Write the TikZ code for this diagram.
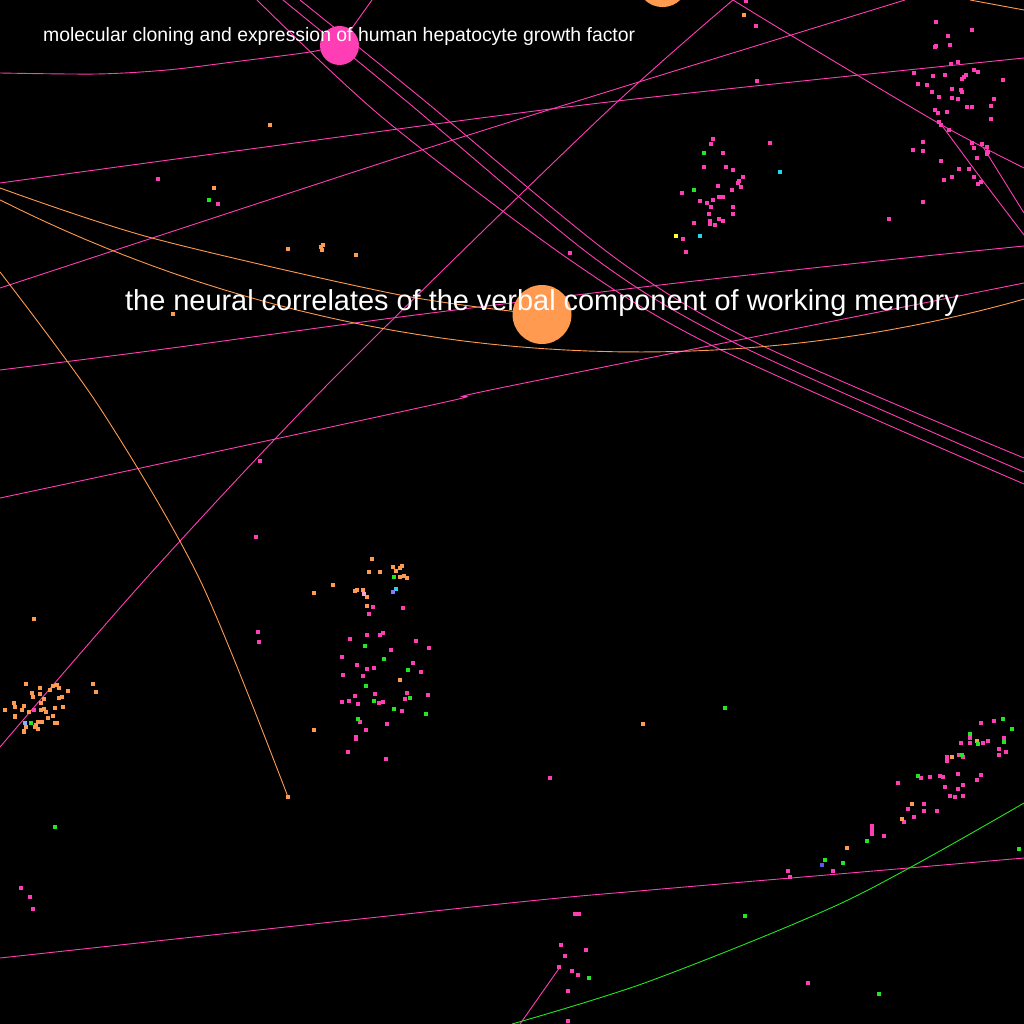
\documentclass[tikz,border=0pt]{standalone}
\usepackage{fontspec}
\newfontfamily\lab{Liberation Sans}
\definecolor{pk}{HTML}{FF3DB4}
\definecolor{og}{HTML}{FF9A50}
\definecolor{gr}{HTML}{22E622}
\definecolor{cy}{HTML}{1ADCE6}
\definecolor{yl}{HTML}{FFFF33}
\definecolor{vi}{HTML}{8080FF}
\definecolor{bl}{HTML}{5A5AF0}
\definecolor{lb}{HTML}{80B4FF}
\definecolor{lp}{HTML}{FFA0D0}
\newcommand\dts[2]{\foreach \x/\y in {#2} \fill[#1] (\x-1.75,\y-1.75) rectangle (\x+1.75,\y+1.75);}
\begin{document}
\begin{tikzpicture}[x=1pt,y=-1pt,
  pkedge/.style={draw=pk,line width=0.9pt},
  ogedge/.style={draw=og,line width=0.9pt},
  gredge/.style={draw=gr,line width=0.9pt},
  hub/.style={circle,inner sep=0pt,draw=none},
  lbl/.style={anchor=base west,inner sep=0pt,text=white}]
\fill[black] (0,0) rectangle (1024,1024);
\useasboundingbox (0,0) rectangle (1024,1024);
\begin{scope}
\clip (0,0) rectangle (1024,1024);
% hub positions
\coordinate (pc) at (339.5,45.5);
\coordinate (oc) at (542,314.5);
\coordinate (otop) at (662.5,-18.4);
\coordinate (e1) at (372,0);
\coordinate (apex) at (733,0);
% pink connectors
\draw[pkedge] plot[smooth] coordinates {(0,73) (97,74) (167,70) (233,62) (310,52) (pc)};
\draw[pkedge] (pc) -- (e1);
\draw[pkedge] plot[smooth] coordinates {(257,0) (383,118) (570,260) (717,348) (1024,484)};
\draw[pkedge] plot[smooth] coordinates {(283,0) (405,100) (597,260) (743,347) (1024,472)};
\draw[pkedge] plot[smooth] coordinates {(300,0) (420,97) (618,260) (763,346) (1024,458)};
\draw[pkedge] plot[smooth] coordinates {(0,747) (150,574) (332,380) (600,118) (apex)};
\draw[pkedge] plot[smooth] coordinates {(apex) (787,33) (940,124) (1024,168)};
\draw[pkedge] plot[smooth] coordinates {(943,127) (980,177) (1024,235)};
\draw[pkedge] plot[smooth] coordinates {(983,147) (1024,213)};
\draw[pkedge] plot[smooth] coordinates {(0,183) (243,150) (600,103) (1024,58)};
\draw[pkedge] plot[smooth] coordinates {(0,288) (400,157) (600,94) (905,0)};
\draw[pkedge] plot[smooth] coordinates {(0,370) (157,350) (400,317) (660,285) (887,260) (1024,246)};
\draw[pkedge] plot[smooth] coordinates {(0,498) (150,466) (450,401) (500,388) (1024,283)};
\draw[pkedge] plot[smooth] coordinates {(0,958) (500,904) (650,890) (850,873) (1024,858)};
\draw[pkedge] (560,967) -- (520,1024);
% orange connectors
\draw[ogedge] plot[smooth] coordinates {(0,188) (152,238) (400,295) (oc)};
\draw[ogedge] plot[domain=-27:16,samples=120,variable=\t] ({640+1423*sin(\t)},{-1071+1423*cos(\t)});
\draw[ogedge] plot[smooth] coordinates {(0,272) (100,408) (200,580) (288,797)};
\draw[ogedge] (970,0) -- (1024,10);
% green connector
\draw[gredge] plot[smooth] coordinates {(512,1024) (650,981) (848,900) (1024,803)};
% dots
\dts{pk}{373/607,403/608,369/614,383/633,380/635,367/635,350/639,416/641,429/648,391/650,342/657,357/665,413/663,367/669,374/668,421/672,343/675,363/676,355/696,375/694,407/693,428/695,405/699,342/702,349/701,358/704,379/703,383/702,402/711,360/722,387/724,366/730,356/737,356/739,348/752,386/759}
\dts{pk}{260/461,256/537,258/632,259/642,34/710,550/778,21/888,30/897,33/909}
\dts{pk}{981/723,994/721,970/738,961/743,970/743,983/743,988/741,1004/738,999/749,1006/752,999/755,959/755,963/757,947/757,947/761,958/774,981/775,977/780,930/777,921/778,940/776,943/777,945/787,963/785,958/789,950/796,955/797,963/796,898/783,924/804,908/809,924/811,937/811,914/817,904/822,872/826,872/830,872/834,884/836,833/871,788/871,790/877,808/983}
\dts{pk}{575/914,579/914,561/945,586/950,565/956,559/967,572/971,578/975,568/991,568/1021}
\dts{pk}{746/1,756/26,757/81,770/143,158/179,218/204,570/253}
\dts{pk}{713/139,711/144,723/153,726/167,704/167,733/170,743/177,739/181,738/183,741/187,718/186,732/190,682/193,700/201,707/203,713/200,719/197,723/197,711/207,733/207,709/214,733/214,694/223,710/221,719/219,723/221,710/224,715/225,683/239,686/252}
\dts{pk}{936/22,972/30,948/36,950/45,935/47,936/46,951/64,958/62,914/73,933/76,945/75,974/70,978/72,966/75,964/77,962/79,1003/80,918/84,927/85,952/89,961/90,962/92,932/92,939/97,952/98,958/99,994/99,967/107,972/107,991/106,935/110,938/113,947/112,991/119,939/122,941/125,949/130,923/142,913/150,923/151,972/143,982/144,987/147,974/148,988/152,987/154,977/158,941/161,959/169,969/169,952/177,944/180,974/177,981/182,978/184,923/202,889/219}
\dts{og}{372/559,393/567,402/566,400/568,396/571,369/572,380/572,404/576,407/578,400/577,333/585,314/593,355/591,357/590,363/590,367/597,367/606,400/680,314/730}
\dts{og}{34/619,26/684,32/693,40/688,33/697,14/703,15/707,24/706,5/710,22/710,15/716,15/717,29/712,41/703,40/694,44/699,50/690,53/686,57/685,59/688,68/691,59/698,62/697,55/708,63/707,41/710,44/709,46/712,53/716,48/718,42/722,38/722,55/723,57/723,36/725,35/727,26/727,38/729,24/731,24/732,93/684,96/692}
\dts{og}{288/797,643/724,270/125,214/188,288/249,323/245,321/247,322/250,356/255,173/314,744/15,977/741,952/757,912/804,902/819,847/848}
\dts{gr}{394/577,365/646,384/659,408/670,366/686,374/701,410/698,394/709,426/714,358/719,31/723,55/827,725/708,745/916,879/994,589/978,1003/719,1012/729,970/734,978/744,1004/742,962/755,918/776,867/841,1019/849,825/860,843/863,209/200,704/153,694/190}
\dts{cy}{396/589,780/172,700/236}
\dts{yl}{676/236}
\dts{vi}{393/592}
\dts{bl}{822/865}
\dts{lb}{25/723}
\dts{lp}{364/594}
% hub nodes
\node[hub,fill=pk,minimum size=39pt] (pinkhub) at (pc) {};
\node[hub,fill=og,minimum size=59pt] (orangehub) at (oc) {};
\node[hub,fill=og,minimum size=51pt] (orangetop) at (otop) {};
\end{scope}
\node[lbl,font=\lab\fontsize{19.4}{23}\selectfont] (t1) at (43,42) {molecular cloning and expression of human hepatocyte growth factor};
\node[lbl,font=\lab\fontsize{28.9}{34}\selectfont] (t2) at (125,310) {the neural correlates of the verbal component of working memory};
\end{tikzpicture}
\end{document}
